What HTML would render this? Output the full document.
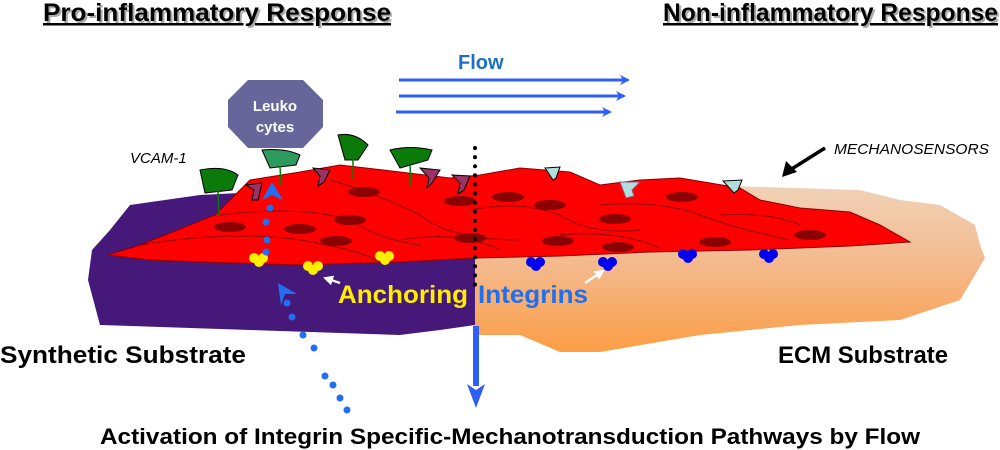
<!DOCTYPE html>
<html><head><meta charset="utf-8"><style>
html,body{margin:0;padding:0;background:#fff;}
svg{display:block;font-family:"Liberation Sans",sans-serif;}
</style></head><body>
<svg width="1000" height="450" viewBox="0 0 1000 450" xmlns="http://www.w3.org/2000/svg">
<defs>
<linearGradient id="pe" x1="0" y1="0" x2="0" y2="1">
<stop offset="0" stop-color="#f0d2b8"/><stop offset="0.5" stop-color="#f4b88a"/><stop offset="1" stop-color="#fb9d45"/>
</linearGradient>
<marker id="ah" markerWidth="10" markerHeight="10" refX="8" refY="5" orient="auto" markerUnits="userSpaceOnUse">
<path d="M0,0 L10,5 L0,10 L3,5z" fill="#2f5ff5"/></marker>
<marker id="wh" markerWidth="10" markerHeight="10" refX="8" refY="5" orient="auto" markerUnits="userSpaceOnUse">
<path d="M0,0 L10,5 L0,10z" fill="#fff"/></marker>
</defs>
<!-- titles -->
<g font-weight="bold" font-size="25">
<text x="45" y="23" fill="#aaa" textLength="348" lengthAdjust="spacingAndGlyphs">Pro-inflammatory Response</text>
<text x="43" y="21" fill="#000" text-decoration="underline" textLength="348" lengthAdjust="spacingAndGlyphs">Pro-inflammatory Response</text>
<text x="665" y="23" fill="#aaa" textLength="335" lengthAdjust="spacingAndGlyphs">Non-inflammatory Response</text>
<text x="663" y="21" fill="#000" text-decoration="underline" textLength="335" lengthAdjust="spacingAndGlyphs">Non-inflammatory Response</text>
</g>
<!-- flow -->
<text x="458" y="69" font-weight="bold" font-size="20" fill="#1a6fc9">Flow</text>
<g stroke="#2f5ff5" stroke-width="3">
<line x1="399" y1="80" x2="628" y2="80" marker-end="url(#ah)"/>
<line x1="399" y1="96" x2="624" y2="96" marker-end="url(#ah)"/>
<line x1="396" y1="112" x2="610" y2="112" marker-end="url(#ah)"/>
</g>
<!-- substrates -->
<path d="M475,190 L560,185 L700,185 L860,190 L900,200 L940,205 L975,225 L980,245 L985,258 L975,275 L960,300 L900,320 L800,325 L700,335 L600,352 L560,352 L520,335 L475,335 Z" fill="url(#pe)"/>
<path d="M475,198 L300,190 L200,195 L130,205 L110,230 L92,250 L88,280 L100,325 L250,330 L400,335 L440,330 L475,325 Z" fill="#45187a"/>
<!-- red cells -->
<path d="M108,255 L140,245 L190,225 L215,215 L250,180 L300,172 L340,165 L400,172 L450,178 L480,175 L520,168 L570,172 L600,185 L640,180 L680,178 L740,188 L760,200 L800,208 L850,212 L880,225 L910,242 L850,246 L750,250 L650,252 L560,256 L475,258 L400,262 L300,265 L200,262 L150,260 Z" fill="#ff0000" stroke="#8a0000" stroke-width="1"/>
<g fill="none" stroke="#8a0000" stroke-width="1">
<path d="M140,245 Q230,230 300,240 Q360,250 380,262"/>
<path d="M220,215 Q300,205 350,220 Q380,240 420,245"/>
<path d="M330,180 Q380,195 420,215 Q450,240 520,240"/>
<path d="M470,210 Q520,200 560,215 Q590,235 640,230"/>
<path d="M600,205 Q660,200 700,215 Q740,230 790,240"/>
<path d="M720,215 Q770,212 800,225"/>
<path d="M400,240 Q460,230 500,250"/>
<path d="M560,235 Q620,230 660,248"/>
</g>
<g fill="#8b0000">
<ellipse cx="230" cy="227" rx="16" ry="5"/><ellipse cx="300" cy="229" rx="16" ry="5"/>
<ellipse cx="364" cy="192" rx="16" ry="5"/><ellipse cx="350" cy="220" rx="16" ry="5"/>
<ellipse cx="460" cy="201" rx="16" ry="5"/><ellipse cx="470" cy="238" rx="16" ry="5"/>
<ellipse cx="336" cy="241" rx="16" ry="5"/><ellipse cx="508" cy="197" rx="16" ry="5"/>
<ellipse cx="550" cy="205" rx="16" ry="5"/><ellipse cx="615" cy="219" rx="16" ry="5"/>
<ellipse cx="558" cy="241" rx="16" ry="5"/><ellipse cx="618" cy="247" rx="16" ry="5"/>
<ellipse cx="682" cy="197" rx="16" ry="5"/><ellipse cx="715" cy="242" rx="16" ry="5"/>
<ellipse cx="810" cy="235" rx="16" ry="5"/>
</g>
<!-- dotted divider -->
<line x1="475" y1="148" x2="475" y2="292" stroke="#000" stroke-width="4" stroke-linecap="round" stroke-dasharray="0.1,9"/>
<!-- VCAM green -->
<g fill="#0a7a0a" stroke="#000" stroke-width="1">
<path d="M200,170 Q225,165 238,175 L232,190 L205,193 Z"/>
<path d="M262,150 Q285,148 300,155 L296,165 L270,168 Z" fill="#2e9a5e"/>
<path d="M338,135 Q355,132 368,145 L358,160 L345,160 Z"/>
<path d="M390,150 Q410,145 432,150 L428,160 L400,168 Z"/>
</g>
<g stroke="#0a7a0a" stroke-width="1.5"><line x1="218" y1="190" x2="219" y2="215"/><line x1="280" y1="166" x2="281" y2="185"/><line x1="353" y1="158" x2="353" y2="180"/><line x1="410" y1="165" x2="411" y2="185"/></g>
<!-- purple mechanosensors left -->
<g fill="#9a3366" stroke="#000" stroke-width="1">
<path d="M246,185 L262,183 L258,200 L252,200 L254,190 Z"/>
<path d="M313,168 L330,170 L324,182 L318,186 L320,176 Z"/>
<path d="M420,168 L440,170 L432,183 L427,188 L429,178 Z"/>
<path d="M452,175 L470,176 L464,190 L458,194 L460,183 Z"/>
</g>
<!-- light blue sensors -->
<g fill="#b0dfe0" stroke="#000" stroke-width="1">
<path d="M545,168 L560,167 L556,178 L553,180 Z"/>
<path d="M723,181 L742,180 L738,190 L734,193 Z"/>
<path d="M620,182 L640,182 L632,190 L634,196 L626,198 Z" stroke="#a05080"/>
</g>
<!-- integrins -->
<g fill="#ffee00">
<circle cx="254" cy="258" r="5"/><circle cx="263" cy="258" r="5"/><circle cx="259" cy="262" r="5"/>
<circle cx="308" cy="266" r="5"/><circle cx="318" cy="266" r="5"/><circle cx="313" cy="270" r="5"/>
<circle cx="380" cy="256" r="5"/><circle cx="389" cy="256" r="5"/><circle cx="385" cy="260" r="5"/>
</g>
<g fill="#0000ee">
<circle cx="531" cy="262" r="5"/><circle cx="540" cy="262" r="5"/><circle cx="536" cy="266" r="5"/>
<circle cx="603" cy="262" r="5"/><circle cx="612" cy="262" r="5"/><circle cx="608" cy="266" r="5"/>
<circle cx="683" cy="254" r="5"/><circle cx="692" cy="254" r="5"/><circle cx="688" cy="258" r="5"/>
<circle cx="764" cy="254" r="5"/><circle cx="773" cy="254" r="5"/><circle cx="769" cy="258" r="5"/>
</g>
<line x1="340" y1="283" x2="325" y2="278" stroke="#fff" stroke-width="2.5" marker-end="url(#wh)"/>
<line x1="585" y1="283" x2="603" y2="271" stroke="#fff" stroke-width="2.5" marker-end="url(#wh)"/>
<text x="338" y="303" font-weight="bold" font-size="25" fill="#ffee00" textLength="130" lengthAdjust="spacingAndGlyphs">Anchoring</text>
<text x="478" y="303" font-weight="bold" font-size="25" fill="#1f6ff0" textLength="110" lengthAdjust="spacingAndGlyphs">Integrins</text>
<!-- blue dotted path -->
<g fill="#1f6ff0">
<circle cx="270" cy="208" r="3.5"/><circle cx="266" cy="222" r="3.5"/><circle cx="267" cy="240" r="3.5"/><circle cx="266" cy="252" r="3.5"/>
<circle cx="287" cy="303" r="3.5"/><circle cx="292" cy="317" r="3.5"/><circle cx="303" cy="335" r="3.5"/>
<circle cx="314" cy="348" r="3.5"/><circle cx="325" cy="376" r="3.5"/><circle cx="333" cy="385" r="3.5"/><circle cx="340" cy="398" r="3.5"/><circle cx="347" cy="410" r="3.5"/>
<path d="M272,182 L283,200 L272,195 L262,200 Z"/>
<path d="M278,283 L297,294 L285,294 L281,305 Z"/>
</g>
<!-- octagon -->
<polygon points="248,80 303,80 323,100 323,127 303,148 248,148 228,127 228,100" fill="#67669a"/>
<text x="275" y="111" font-weight="bold" font-size="15" fill="#fff" text-anchor="middle">Leuko</text>
<text x="275" y="132" font-weight="bold" font-size="15" fill="#fff" text-anchor="middle">cytes</text>
<!-- labels -->
<text x="130" y="163" font-style="italic" font-size="15">VCAM-1</text>
<text x="834" y="154" font-style="italic" font-size="15" textLength="155" lengthAdjust="spacingAndGlyphs">MECHANOSENSORS</text>
<line x1="825" y1="148" x2="790" y2="170" stroke="#000" stroke-width="3.5"/>
<path d="M782,177 L786,161 L797,172 Z" fill="#000"/>
<!-- big arrow -->
<rect x="473" y="326" width="6" height="60" fill="#2f5ff5"/>
<path d="M467,384 L476,408 L485,384 L476,390 Z" fill="#2f5ff5"/>
<g font-weight="bold" font-size="24">
<text x="0" y="363" textLength="246" lengthAdjust="spacingAndGlyphs">Synthetic Substrate</text>
<text x="778" y="363" textLength="170" lengthAdjust="spacingAndGlyphs">ECM Substrate</text>
<text x="100" y="444" font-size="22" textLength="820" lengthAdjust="spacingAndGlyphs">Activation of Integrin Specific-Mechanotransduction Pathways by Flow</text>
</g>
</svg>
</body></html>
